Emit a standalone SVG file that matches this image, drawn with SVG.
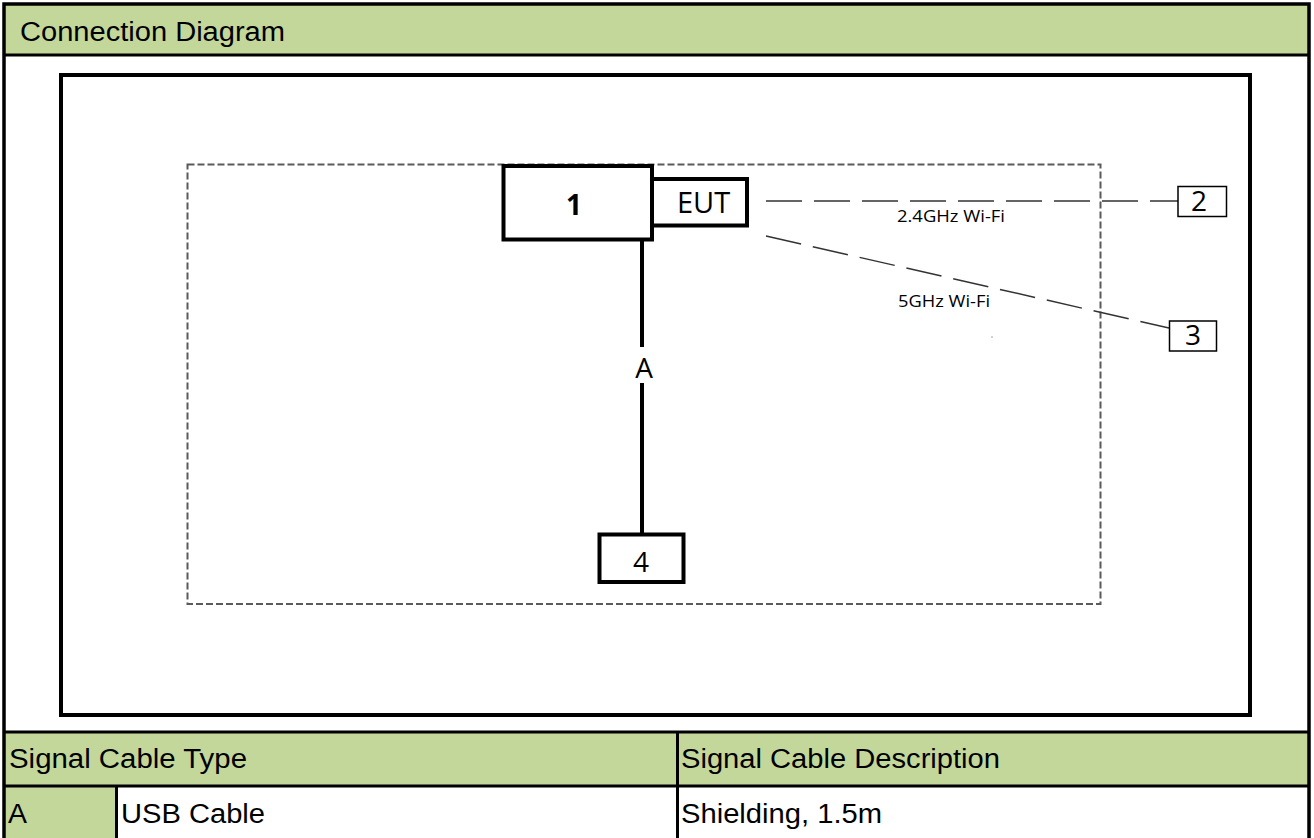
<svg xmlns="http://www.w3.org/2000/svg" width="1314" height="838" viewBox="0 0 1314 838">
<style>
.tbl{font-family:"Liberation Sans",Arial,sans-serif;font-size:27px;fill:#000}
.dg{font-family:"Open Sans","Noto Sans",sans-serif;fill:#000}
.box{fill:#fff;stroke:#000;stroke-width:4}
.sbox{fill:#fff;stroke:#000;stroke-width:1.5}
.wifi{fill:none;stroke:#333;stroke-width:1.5;stroke-dasharray:36 12}
.grid{stroke:#000;stroke-width:3}
.green{fill:#C4D79B}
</style>
<rect width="1314" height="838" fill="#fff"/>
<g id="table">
<rect class="green" x="4" y="4" width="1305" height="51"/>
<rect class="green" x="4" y="732" width="1305" height="54"/>
<rect class="green" x="4" y="786" width="113" height="52"/>
<line class="grid" x1="4" y1="55" x2="1309" y2="55"/>
<line class="grid" x1="4" y1="732" x2="1309" y2="732"/>
<line class="grid" x1="4" y1="786" x2="1309" y2="786"/>
<line class="grid" x1="116.5" y1="786" x2="116.5" y2="838"/>
<line class="grid" x1="677.5" y1="732" x2="677.5" y2="838"/>
<rect x="4" y="4" width="1305" height="840" fill="none" stroke="#000" stroke-width="3.5"/>
<text class="tbl" x="20" y="41" font-size="29" textLength="265" lengthAdjust="spacingAndGlyphs">Connection Diagram</text>
<text class="tbl" x="9" y="768" textLength="238" lengthAdjust="spacingAndGlyphs">Signal Cable Type</text>
<text class="tbl" x="681" y="768" textLength="319" lengthAdjust="spacingAndGlyphs">Signal Cable Description</text>
<text class="tbl" x="8" y="823" textLength="19" lengthAdjust="spacingAndGlyphs">A</text>
<text class="tbl" x="121" y="823" textLength="144" lengthAdjust="spacingAndGlyphs">USB Cable</text>
<text class="tbl" x="681" y="823" textLength="201" lengthAdjust="spacingAndGlyphs">Shielding, 1.5m</text>
</g>
<rect id="frame" x="61" y="75" width="1189" height="640" fill="none" stroke="#000" stroke-width="4"/>
<rect id="boundary" x="187.5" y="164.5" width="913" height="439.5" fill="none" stroke="#5a5a5a" stroke-width="2" stroke-dasharray="7 3"/>
<g id="connectors">
<line x1="642" y1="239" x2="642" y2="347" stroke="#000" stroke-width="4"/>
<line x1="642" y1="383" x2="642" y2="534" stroke="#000" stroke-width="4"/>
<text class="dg" x="644" y="378" font-size="28" text-anchor="middle">A</text>
<line class="wifi" x1="766" y1="201" x2="1178" y2="201"/>
<text class="dg" x="897" y="222" font-size="17" textLength="108" lengthAdjust="spacingAndGlyphs">2.4GHz Wi-Fi</text>
<line class="wifi" x1="766" y1="236" x2="1169" y2="328" stroke-dasharray="37 13"/>
<text class="dg" x="898" y="307" font-size="17" textLength="92" lengthAdjust="spacingAndGlyphs">5GHz Wi-Fi</text>
<circle cx="992" cy="337" r="0.8" fill="#999"/>
</g>
<g id="node1">
<rect class="box" x="503.5" y="166" width="148.5" height="73.5"/>
<text class="dg" x="574" y="215" font-size="28" font-weight="bold" text-anchor="middle">1</text>
</g>
<g id="eut">
<rect class="box" x="652" y="179" width="95" height="46.5"/>
<text class="dg" x="703.5" y="213" font-size="29" text-anchor="middle">EUT</text>
</g>
<g id="node2">
<rect class="sbox" x="1178" y="186.5" width="48.5" height="30"/>
<text class="dg" x="1199" y="211" font-size="28" text-anchor="middle">2</text>
</g>
<g id="node3">
<rect class="sbox" x="1169.5" y="321" width="47" height="30"/>
<text class="dg" x="1193" y="345" font-size="28" text-anchor="middle">3</text>
</g>
<g id="node4">
<rect class="box" x="599.5" y="534.5" width="84" height="47.5"/>
<text class="dg" x="641" y="572" font-size="28" text-anchor="middle">4</text>
</g>
</svg>
